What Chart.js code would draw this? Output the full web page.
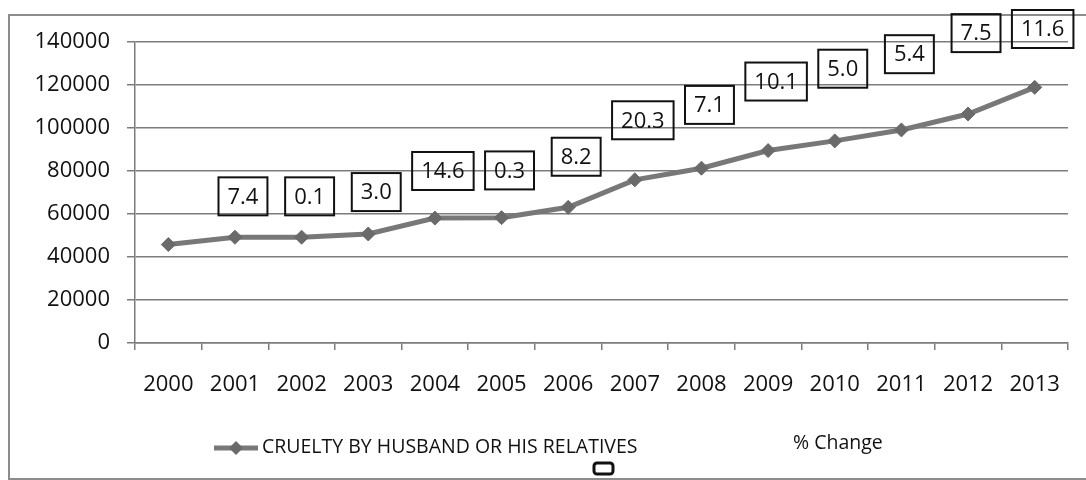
<!DOCTYPE html>
<html>
<head>
<meta charset="utf-8">
<script src="https://cdn.jsdelivr.net/npm/chart.js@4/dist/chart.umd.min.js"></script>
<style>
  body { margin: 0; background: #fff; }
  #wrap { width: 1086px; height: 480px; }
</style>
</head>
<body>
<div id="wrap"><canvas id="myChart" width="1086" height="480"></canvas></div>
<script>
// data
var years = ["2000", "2001", "2002", "2003", "2004", "2005", "2006", "2007", "2008", "2009", "2010", "2011", "2012", "2013"];
var cruelty = [45800, 49200, 49200, 50700, 58100, 58300, 63100, 75900, 81300, 89500, 94000, 99100, 106500, 118900];
var pctChange = [null, 7.4, 0.1, 3.0, 14.6, 0.3, 8.2, 20.3, 7.1, 10.1, 5.0, 5.4, 7.5, 11.6];
var yTicks = [0, 20000, 40000, 60000, 80000, 100000, 120000, 140000];
var seriesName = "CRUELTY BY HUSBAND OR HIS RELATIVES";
var pctName = "% Change";

var FONT = "'Open Sans', 'Liberation Sans', sans-serif";
var gridColor = "#7c7c7c";
var lineColor = "#787878";
var textColor = "#111";

const ctx = document.getElementById("myChart");

// outer frame of the chart object
const frame = {
  id: "frame",
  beforeDraw(chart) {
    const c = chart.ctx;
    c.save();
    c.fillStyle = "#fff";
    c.fillRect(0, 0, chart.width, chart.height);
    c.strokeStyle = "#8c8c8c";
    c.lineWidth = 2;
    c.strokeRect(9, 15, 1100, 464);
    c.restore();
  },
};

// % change boxes above the points
const pctLabels = {
  id: "pctLabels",
  afterDatasetsDraw(chart) {
    const c = chart.ctx;
    const meta = chart.getDatasetMeta(0);
    const bottom = chart.chartArea.bottom;
    c.save();
    c.font = "22px " + FONT;
    c.textAlign = "center";
    c.textBaseline = "middle";
    pctChange.forEach((v, i) => {
      if (v === null) return;
      const pt = meta.data[i];
      const h = bottom - pt.y;
      const txt = v.toFixed(1);
      const w = c.measureText(txt).width + 18;
      const bh = 38;
      let cy = bottom - 1.325 * h - 6.5;
      if (cy - bh / 2 < 10) cy = 10 + bh / 2;
      const cx = pt.x + 8;
      c.strokeStyle = "#111";
      c.lineWidth = 2;
      c.strokeRect(cx - w / 2, cy - bh / 2, w, bh);
      c.fillStyle = textColor;
      c.fillText(txt, cx, cy + 1);
    });
    c.restore();
  },
};

// legend at the bottom
const legendDraw = {
  id: "legendDraw",
  afterDraw(chart) {
    const c = chart.ctx;
    const ds = chart.data.datasets[0];
    c.save();
    c.strokeStyle = lineColor;
    c.lineWidth = 5;
    c.beginPath();
    c.moveTo(214, 448);
    c.lineTo(258, 448);
    c.stroke();
    c.fillStyle = ds.pointBackgroundColor;
    c.beginPath();
    c.moveTo(236, 441);
    c.lineTo(243, 448);
    c.lineTo(236, 455);
    c.lineTo(229, 448);
    c.closePath();
    c.fill();
    c.font = "19.5px " + FONT;
    c.fillStyle = textColor;
    c.textBaseline = "middle";
    c.textAlign = "left";
    c.fillText(ds.label, 262, 447);
    c.fillText(pctName, 793, 443);
    c.strokeStyle = "#111";
    c.lineWidth = 3;
    c.fillStyle = "#fff";
    c.beginPath();
    c.roundRect(594, 463, 19, 11, 3);
    c.fill();
    c.stroke();
    c.restore();
  },
};

const config = {
  type: "line",
  data: {
    labels: years,
    datasets: [
      {
        label: seriesName,
        data: cruelty,
        borderColor: lineColor,
        borderWidth: 5,
        pointStyle: "rectRot",
        pointRadius: 7,
        pointBackgroundColor: "#6a6a6a",
        pointBorderColor: "#6a6a6a",
        pointBorderWidth: 1,
        tension: 0,
      },
    ],
  },
  options: {
    responsive: false,
    animation: false,
    layout: { padding: { left: 0, top: 42, right: 18, bottom: 0 } },
    plugins: {
      legend: { display: false },
      tooltip: { enabled: false },
    },
    scales: {
      x: {
        offset: true,
        grid: {
          offset: true,
          drawOnChartArea: false,
          drawTicks: true,
          tickLength: 7,
          color: gridColor,
          lineWidth: 1.5,
        },
        border: { display: true, color: gridColor, width: 1.5 },
        ticks: {
          autoSkip: false,
          maxRotation: 0,
          padding: 22,
          color: textColor,
          font: { family: FONT, size: 22 },
        },
        afterFit(scale) {
          scale.height = 137;
        },
      },
      y: {
        min: 0,
        max: 140000,
        afterBuildTicks(scale) {
          scale.ticks = yTicks.map((v) => ({ value: v }));
        },
        grid: {
          color: gridColor,
          lineWidth: 1.5,
          drawTicks: true,
          tickLength: 8,
        },
        border: { display: true, color: gridColor, width: 1.5 },
        ticks: {
          padding: 17,
          color: textColor,
          font: { family: FONT, size: 22 },
          callback: (v) => String(v),
        },
        afterFit(scale) {
          scale.width = 135;
        },
      },
    },
  },
  plugins: [frame, pctLabels, legendDraw],
};

var chart = new Chart(ctx, config);
</script>
</body>
</html>
